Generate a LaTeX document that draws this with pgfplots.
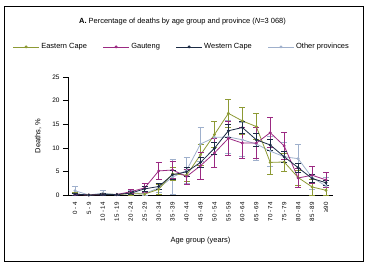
\documentclass[border=0pt]{standalone}
\usepackage{fontspec}
\setmainfont{Liberation Sans}
\usepackage{pgfplots}
\pgfplotsset{compat=1.18}
\definecolor{ecol}{HTML}{8D9A34}
\definecolor{gcol}{HTML}{9B2A82}
\definecolor{wcol}{HTML}{1C2B45}
\definecolor{ocol}{HTML}{9FB0CC}
\begin{document}
\begin{tikzpicture}
\useasboundingbox (-68bp,-67bp) rectangle (302bp,195bp);
\begin{axis}[
  at={(0,0)}, anchor=south west,
  width=265bp, height=118bp, scale only axis,
  xmin=-0.5, xmax=18.5, ymin=0, ymax=25,
  axis x line*=bottom, axis y line*=left,
  x axis line style={-}, y axis line style={-},
  axis line style={line width=0.6pt},
  xtick={0,...,18},
  xticklabels={0 - 4,5 - 9,10 - 14,15 - 19,20 - 24,25 - 29,30 - 34,35 - 39,40 - 44,45 - 49,50 - 54,55 - 59,60 - 64,65 - 69,70 - 74,75 - 79,80 - 84,85 - 89,≥90},
  x tick label style={rotate=90, anchor=east, font=\fontsize{6.2}{7}\selectfont, inner sep=2bp},
  xtick style={draw=none},
  ytick={0,5,...,25},
  ytick style={black, line width=0.6pt},
  tick align=outside, major tick length=5bp,
  y tick label style={font=\fontsize{6.5}{7}\selectfont},
  /pgf/number format/assume math mode=true,
  ylabel={Deaths, \%},
  ylabel style={at={(axis description cs:-0.113,0.5)}, anchor=center, font=\fontsize{7.5}{8}\selectfont},
  xlabel={Age group (years)},
  xlabel style={at={(axis description cs:0.5,-0.385)}, anchor=center, font=\fontsize{7.5}{8}\selectfont},
  legend columns=4,
  legend style={at={(axis description cs:0.43,1.255)}, anchor=center, draw=none, fill=none,
    font=\fontsize{7.5}{8}\selectfont, /tikz/every even column/.append style={column sep=14bp}},
  legend image code/.code={\draw[mark repeat=2,mark phase=2] plot coordinates {(0cm,0cm) (0.45cm,0cm) (0.9cm,0cm)};},
  every axis plot/.append style={line width=0.8pt, mark=*, mark size=1bp},
  error bars/y dir=both, error bars/y explicit,
  error bars/error bar style={line width=0.7pt},
  error bars/error mark options={rotate=90, mark size=3bp, line width=0.7pt},
]
\addplot[color=ocol, forget plot] table[x=x,y=y,y error=e] {
x y e
0 0.9 0.9
1 0.0 0.0
2 0.4 0.5
3 0.1 0.1
4 0.5 0.4
5 0.3 0.4
6 1.5 1.0
7 3.8 3.7
8 5.2 2.8
9 10.8 3.6
10 12.2 3.5
11 12.3 3.5
12 11.7 3.6
13 10.8 3.5
14 9.3 3.2
15 8.1 3.0
16 7.7 3.0
17 3.7 2.4
18 1.9 1.9
};
\addplot[color=ecol] table[x=x,y=y,y error=e] {
x y e
0 0.2 0.3
1 0.0 0.0
2 0.2 0.2
3 0.1 0.1
4 0.3 0.3
5 0.2 0.4
6 1.2 1.0
7 4.5 1.4
8 4.2 1.3
9 8.5 2.2
10 12.8 2.8
11 17.3 3.0
12 15.7 2.9
13 14.5 2.8
14 6.9 2.5
15 7.0 1.9
16 3.7 1.6
17 1.7 1.7
18 1.0 1.0
};
\addlegendentry{Eastern Cape}
\addplot[color=gcol] table[x=x,y=y,y error=e] {
x y e
0 0.1 0.2
1 0.0 0.0
2 0.1 0.2
3 0.1 0.1
4 0.7 0.4
5 1.5 1.0
6 5.1 1.8
7 5.3 1.8
8 3.9 1.6
9 6.2 2.9
10 8.9 3.1
11 12.0 3.7
12 11.0 3.3
13 11.0 3.3
14 13.2 3.2
15 10.4 2.8
16 3.6 2.0
17 4.2 1.8
18 3.2 1.6
};
\addlegendentry{Gauteng}
\addplot[color=wcol] table[x=x,y=y,y error=e] {
x y e
0 0.2 0.2
1 0.0 0.0
2 0.1 0.2
3 0.1 0.1
4 0.4 0.3
5 1.3 0.5
6 1.8 0.6
7 4.3 0.9
8 4.9 0.9
9 6.9 1.1
10 9.9 1.2
11 13.6 1.3
12 14.3 1.3
13 11.7 1.3
14 10.6 1.2
15 8.1 1.1
16 5.8 0.9
17 3.5 0.8
18 2.6 0.6
};
\addlegendentry{Western Cape}
\addlegendimage{color=ocol, line width=0.8pt, mark=*, mark size=1bp}
\addlegendentry{Other provinces}
\end{axis}
\node[font=\fontsize{7.5}{8}\selectfont] at (114.5bp,173bp) {\textbf{A.} Percentage of deaths by age group and province (\textit{N}=3 068)};
\draw[line width=0.6pt] (-64bp,-66bp) rectangle (295bp,189bp);
\end{tikzpicture}
\end{document}
